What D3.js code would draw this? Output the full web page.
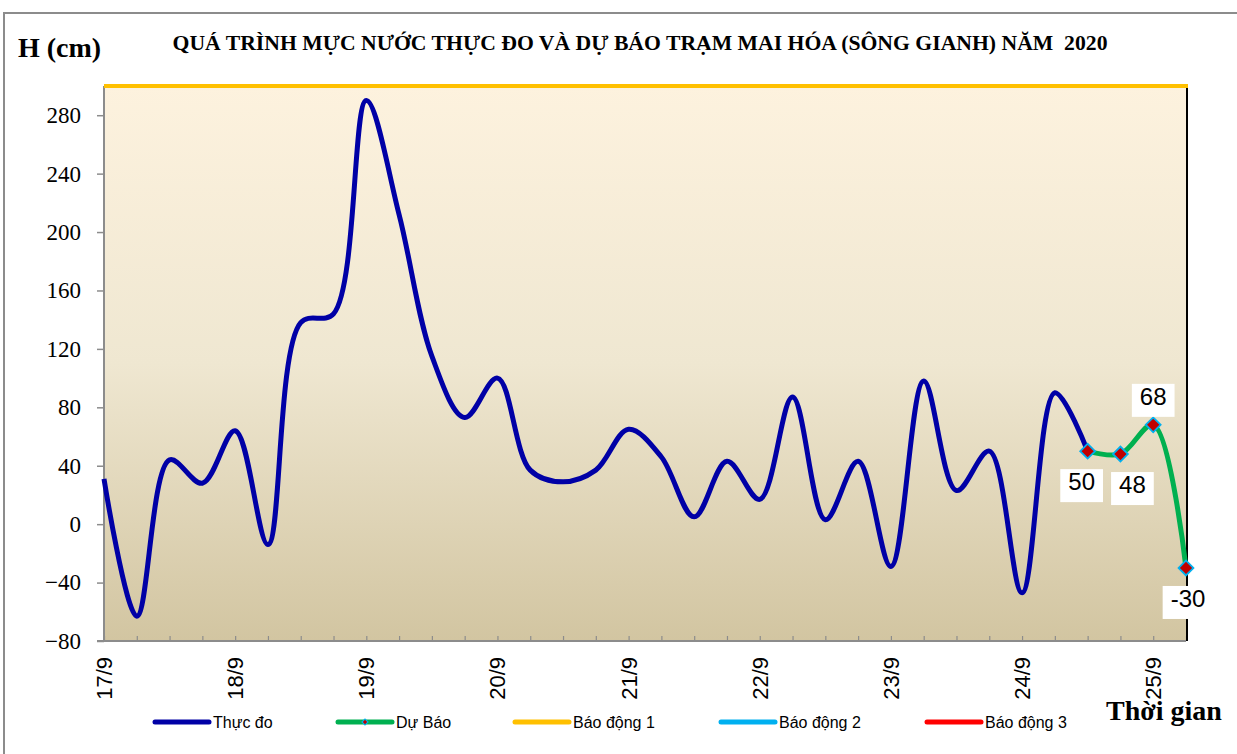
<!DOCTYPE html>
<html><head><meta charset="utf-8">
<script src="https://cdn.jsdelivr.net/npm/d3@7"></script>
<style>body{margin:0;background:#fff;} svg{display:block;}</style>
</head><body>
<svg id="c" width="1237" height="754"></svg>
<script>
// ---- data ----
const dayLabels = ["17/9","18/9","19/9","20/9","21/9","22/9","23/9","24/9","25/9"];
const stepsPerDay = 4; // 6-hour steps
const observed = [31,-63,44,28,64,-14,138,144,290,212,115,73,100,37,29,37,65,46,5,43,17,87,3,43,-29,98,23,50,-47,90,50];
const forecastStart = 30;
const forecast = [50,48,68,-30];
const yTicks = [-80,-40,0,40,80,120,160,200,240,280];
const alarm1 = 300;
const legendItems = ["Thực đo","Dự Báo","Báo động 1","Báo động 2","Báo động 3"];
const labelPlacement = ["below","below","above","below"];

// ---- layout ----
const svg = d3.select("#c");
const L = 104, R = 1186, T = 86, B = 641;
const nSteps = (dayLabels.length - 1) * stepsPerDay + 1;
const x = d3.scaleLinear().domain([0, nSteps]).range([L, R]);
const y = d3.scaleLinear().domain([-80, 300]).range([B, T]);

// outer frame
svg.append("rect").attr("x",4).attr("y",13).attr("width",1300).attr("height",800)
  .attr("fill","none").attr("stroke","#8c8c8c").attr("stroke-width",2);

// gradient background
const defs = svg.append("defs");
const g = defs.append("linearGradient").attr("id","bg").attr("x1",0).attr("y1",0).attr("x2",0).attr("y2",1);
g.append("stop").attr("offset","0%").attr("stop-color","#fdf2de");
g.append("stop").attr("offset","50%").attr("stop-color","#efe7d1");
g.append("stop").attr("offset","100%").attr("stop-color","#d2c5a1");
svg.append("rect").attr("x",L).attr("y",T).attr("width",R-L).attr("height",B-T).attr("fill","url(#bg)");

// title
svg.append("text").attr("x",640).attr("y",50).attr("text-anchor","middle")
  .attr("font-family","Liberation Serif, Times New Roman, serif").attr("font-weight","bold")
  .attr("font-size",21.7).style("white-space","pre")
  .text("QUÁ TRÌNH MỰC NƯỚC THỰC ĐO VÀ DỰ BÁO TRẠM MAI HÓA (SÔNG GIANH) NĂM  2020");
svg.append("text").attr("x",18).attr("y",57)
  .attr("font-family","Liberation Serif, Times New Roman, serif").attr("font-weight","bold")
  .attr("font-size",28).text("H (cm)");
svg.append("text").attr("x",1106).attr("y",720)
  .attr("font-family","Liberation Serif, Times New Roman, serif").attr("font-weight","bold")
  .attr("font-size",28).text("Thời gian");

// y axis
const yAxis = d3.axisLeft(y).tickValues(yTicks).tickSize(7).tickPadding(16).tickFormat(d3.format("d"));
const ya = svg.append("g").attr("transform",`translate(${L},0)`).call(yAxis);
ya.select(".domain").remove();
ya.selectAll(".tick line").attr("stroke","#8c8c8c").attr("stroke-width",1.5);
ya.selectAll(".tick text").attr("font-family","Liberation Serif, Times New Roman, serif")
  .attr("font-size",23).attr("fill","#000");

// x axis ticks (inward, every 6h)
const xAxis = d3.axisBottom(x).tickValues(d3.range(0, nSteps + 1)).tickSize(-5).tickFormat("");
const xa = svg.append("g").attr("transform",`translate(0,${B})`).call(xAxis);
xa.select(".domain").remove();
xa.selectAll(".tick line").attr("stroke","#8c8c8c").attr("stroke-width",1.2);

// day labels
svg.append("g").selectAll("text").data(dayLabels).join("text")
  .attr("transform",(d,i)=>`translate(${x(i*stepsPerDay)},657) rotate(-90)`)
  .attr("text-anchor","end").attr("dy","0.36em")
  .attr("font-family","Liberation Sans, Arial, sans-serif").attr("font-size",22).attr("fill","#000")
  .text(d=>d);

// axis lines
svg.append("line").attr("x1",L).attr("x2",L).attr("y1",T).attr("y2",B+1).attr("stroke","#8c8c8c").attr("stroke-width",2);
svg.append("line").attr("x1",L-7).attr("x2",R).attr("y1",B).attr("y2",B).attr("stroke","#8c8c8c").attr("stroke-width",2);
svg.append("line").attr("x1",R+1).attr("x2",R+1).attr("y1",T).attr("y2",B).attr("stroke","#000").attr("stroke-width",2);

// alarm 1 line
svg.append("line").attr("x1",L).attr("x2",R+2).attr("y1",y(alarm1)).attr("y2",y(alarm1))
  .attr("stroke","#ffc000").attr("stroke-width",4);

// lines
const line = d3.line().x(d=>x(d[0])).y(d=>y(d[1])).curve(d3.curveCatmullRom.alpha(0.5));
svg.append("path").datum(observed.map((v,i)=>[i,v])).attr("d",line)
  .attr("fill","none").attr("stroke","#0000a6").attr("stroke-width",5).attr("stroke-linejoin","round");
const fc = forecast.map((v,i)=>[forecastStart+i,v]);
svg.append("path").datum(fc).attr("d",line)
  .attr("fill","none").attr("stroke","#00b050").attr("stroke-width",5);

// markers
svg.append("g").selectAll("path").data(fc).join("path")
  .attr("d",d3.symbol().type(d3.symbolSquare).size(110))
  .attr("transform",d=>`translate(${x(d[0])},${y(d[1])}) rotate(45)`)
  .attr("fill","#c00000").attr("stroke","#00b0f0").attr("stroke-width",1.8);

// data labels
const lblG = svg.append("g");
const dxs = [-6, 12, 0, 2];
fc.forEach((d,i)=>{
  const cx = x(d[0]) + dxs[i];
  const base = labelPlacement[i]==="above" ? y(d[1]) - 20 : y(d[1]) + 39;
  const t = lblG.append("text").attr("x",cx).attr("y",base).attr("text-anchor","middle")
    .attr("font-family","Liberation Sans, Arial, sans-serif").attr("font-size",24).attr("fill","#000")
    .text(d[1]);
  const bb = t.node().getBBox();
  lblG.insert("rect","text").attr("x",bb.x-8).attr("y",bb.y+1).attr("width",bb.width+16).attr("height",bb.height+6).attr("fill","#fff");
});
lblG.selectAll("text").raise();

// legend
const legColors = ["#0000a6","#00b050","#ffc000","#00b0f0","#ff0000"];
const legX = [155, 338, 515, 721, 927];
const legY = 722;
const lg = svg.append("g");
legendItems.forEach((name,i)=>{
  lg.append("line").attr("x1",legX[i]).attr("x2",legX[i]+54).attr("y1",legY).attr("y2",legY)
    .attr("stroke",legColors[i]).attr("stroke-width",5).attr("stroke-linecap","round");
  if(i===1){
    lg.append("path").attr("transform",`translate(${legX[i]+27},${legY}) rotate(45)`)
      .attr("d",d3.symbol().type(d3.symbolSquare).size(18)).attr("fill","#c00000").attr("stroke","#00b0f0").attr("stroke-width",1.2);
  }
  lg.append("text").attr("x",legX[i]+58).attr("y",legY+6)
    .attr("font-family","Liberation Sans, Arial, sans-serif").attr("font-size",16).attr("fill","#000").text(name);
});
</script>
</body></html>
